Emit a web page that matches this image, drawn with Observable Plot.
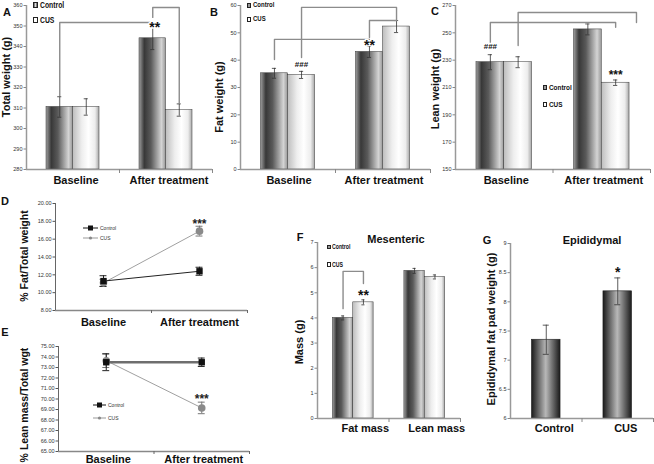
<!DOCTYPE html>
<html><head><meta charset="utf-8">
<script src="https://cdn.jsdelivr.net/npm/d3@7"></script>
<script src="https://cdn.jsdelivr.net/npm/@observablehq/plot@0.6"></script>
<style>
body{margin:0;background:#fff;}
#fig{position:relative;width:654px;height:464px;overflow:hidden;font-family:"Liberation Sans",Arial,sans-serif;background:#fff;}
.t{position:absolute;white-space:nowrap;line-height:1;color:#111;}
.sw{position:absolute;box-sizing:border-box;border:1px solid #222;}
</style></head><body>
<svg width="0" height="0" style="position:absolute">
<defs>
<linearGradient id="gCtrl" x1="0" x2="1" y1="0" y2="0">
<stop offset="0" stop-color="#a0a0a0"/><stop offset="0.2" stop-color="#383838"/><stop offset="0.45" stop-color="#5a5a5a"/><stop offset="0.85" stop-color="#d4d4d4"/><stop offset="1" stop-color="#9a9a9a"/>
</linearGradient>
<linearGradient id="gCus" x1="0" x2="1" y1="0" y2="0">
<stop offset="0" stop-color="#bdbdbd"/><stop offset="0.35" stop-color="#eeeeee"/><stop offset="0.6" stop-color="#ffffff"/><stop offset="0.85" stop-color="#ededed"/><stop offset="1" stop-color="#a8a8a8"/>
</linearGradient>
<linearGradient id="gEpi" x1="0" x2="1" y1="0" y2="0">
<stop offset="0" stop-color="#1a1a1a"/><stop offset="0.5" stop-color="#b8b8b8"/><stop offset="1" stop-color="#1a1a1a"/>
</linearGradient>
</defs></svg>
<div id="fig"></div>
<script>
// ---------- DATA ----------
const categories = ["Baseline", "After treatment"];
const groups = ["Control", "CUS"];

// A: Total weight (g)
const totalCtrl = [310.5, 344.0];
const totalCtrlErr = [5.0, 5.5];
const totalCus = [310.5, 309.0];
const totalCusErr = [4.0, 3.0];
const totalTicks = [280, 290, 300, 310, 320, 330, 340, 350, 360];

// B: Fat weight (g)
const fatCtrl = [35.2, 43.0];
const fatCtrlErr = [1.8, 2.0];
const fatCus = [34.6, 52.3];
const fatCusErr = [1.3, 2.2];
const fatTicks = [0, 10, 20, 30, 40, 50, 60];

// C: Lean weight (g)
const leanCtrl = [228.5, 252.5];
const leanCtrlErr = [5.5, 4.0];
const leanCus = [228.5, 213.5];
const leanCusErr = [4.0, 2.0];
const leanTicks = [150, 170, 190, 210, 230, 250, 270];

// D: % Fat/Total weight
const fatPctCtrl = [11.3, 12.4];
const fatPctCtrlErr = [0.6, 0.45];
const fatPctCus = [11.1, 16.9];
const fatPctCusErr = [0.4, 0.55];
const fatPctTicks = [8, 10, 12, 14, 16, 18, 20];

// E: % Lean mass/Total wgt
const leanPctCtrl = [73.5, 73.5];
const leanPctCtrlErr = [0.8, 0.4];
const leanPctCus = [73.65, 69.15];
const leanPctCusErr = [0.65, 0.55];
const leanPctTicks = [65, 66, 67, 68, 69, 70, 71, 72, 73, 74, 75];

// F: Mesenteric mass (g)
const mesCategories = ["Fat mass", "Lean mass"];
const mesCtrl = [4.0, 5.87];
const mesCtrlErr = [0.08, 0.1];
const mesCus = [4.62, 5.63];
const mesCusErr = [0.1, 0.08];
const mesTicks = [0, 1, 2, 3, 4, 5, 6, 7];

// G: Epididymal fat pad weight (g)
const epiGroups = ["Control", "CUS"];
const epiValues = [7.35, 8.18];
const epiErr = [0.25, 0.23];
const epiTicks = [6, 6.5, 7, 7.5, 8, 8.5, 9];

// significance brackets: [categoryIndex, groupSlot(-1 Control, +1 CUS), value]
const bracketsA = [
  [[0, -1, 316], [0, -1, 351.7], [1, -1, 351.7]],
  [[1, -1, 354.2], [1, -1, 359], [1, 1, 359], [1, 1, 312.3]]
];
const sigA = [{cat: 1, slot: -1, v: 349.5, text: "**"}];
const bracketsB = [
  [[0, -1, 40.2], [0, -1, 47.6], [1, -1, 47.6]],
  [[0, 1, 41], [0, 1, 59.3], [1, 1, 59.3], [1, 1, 54.5]],
  [[1, -1, 48.3], [1, -1, 54.5], [1, 1, 54.5]]
];
const sigB = [{cat: 0, slot: 1, v: 38.6, text: "###"}, {cat: 1, slot: -1, v: 45.25, text: "**"}];
const bracketsC = [
  [[0, -1, 242.9], [0, -1, 257.6], [1, 1, 257.6], [1, 1, 254]],
  [[0, 1, 240.7], [0, 1, 264.9], [1, 2.5, 264.9], [1, 2.5, 257.6]]
];
const sigC = [{cat: 0, slot: -1, v: 240.4, text: "###"}, {cat: 1, slot: 1, v: 218.7, text: "***"}];
const bracketsF = [
  [[0, -1, 4.37], [0, -1, 5.85], [0, 1, 5.85], [0, 1, 5.37]]
];
const sigF = [{cat: 0, slot: 1, v: 4.91, text: "**"}];
const sigD = [{cat: 1, v: 17.65, text: "***"}];
const sigE = [{cat: 1, v: 69.95, text: "***"}];
const sigG = [{cat: 1, v: 8.5, text: "*"}];

// ---------- LAYOUT / HELPERS ----------
const fig = document.getElementById("fig");
const xDomain = [-0.5, 1.5];
const bw = 0.285;
const FONT = "Liberation Sans, Arial, sans-serif";
const NARROW = "Liberation Sans Narrow, Arial Narrow, Liberation Sans, sans-serif";

function place(node, left, top) {
  node.style.position = "absolute";
  node.style.left = left + "px";
  node.style.top = top + "px";
  fig.appendChild(node);
}
function label(text, x, y, o = {}) {
  const d = document.createElement("div");
  d.className = "t";
  d.textContent = text;
  d.style.left = x + "px";
  d.style.top = y + "px";
  d.style.fontSize = (o.size || 11) + "px";
  d.style.fontWeight = o.weight || "bold";
  if (o.family) d.style.fontFamily = o.family;
  if (o.color) d.style.color = o.color;
  if (o.leftAlign) {
    d.style.transformOrigin = "0 50%";
    d.style.transform = "translate(0,-50%)" + (o.squeeze ? ` scaleX(${o.squeeze})` : "");
  } else {
    d.style.transform = o.rotate ? "translate(-50%,-50%) rotate(-90deg)" : "translate(-50%,-50%)";
  }
  fig.appendChild(d);
}
function swatch(x, y, w, h, kind) {
  const d = document.createElement("div");
  d.className = "sw";
  d.style.left = x + "px"; d.style.top = y + "px";
  d.style.width = w + "px"; d.style.height = h + "px";
  d.style.background = kind === "ctrl" ? "linear-gradient(90deg,#555,#ddd 50%,#555)" : "#fff";
  fig.appendChild(d);
}
function sigSize(t) { return t.startsWith("#") ? 8 : (t === "***" ? 12 : 14); }
function bracketPoints(br) {
  return br.flatMap((b, i) => b.map(([cat, slot, v]) => ({id: i, cat, slot, v})));
}
const sx = d => d.cat + (d.slot || 0) * bw / 2;

function barPanel(c) {
  const rows = c.ctrl.flatMap((v, i) => [
    {cat: i, slot: -1, v, e: c.ctrlErr[i]},
    {cat: i, slot: 1, v: c.cus[i], e: c.cusErr[i]}
  ]);
  const y0 = c.yDomain[0];
  const cap = 0.022;
  const plot = Plot.plot({
    width: c.width, height: c.height,
    marginLeft: c.mL, marginRight: c.mR, marginTop: c.mT, marginBottom: c.mB,
    x: {domain: xDomain, label: null},
    y: {domain: c.yDomain, label: null},
    color: {type: "identity"},
    style: {background: "transparent", fontFamily: FONT, overflow: "visible"},
    marks: [
      Plot.rect(rows, {
        x1: d => d.cat + (d.slot < 0 ? -bw : 0),
        x2: d => d.cat + (d.slot < 0 ? 0 : bw),
        y1: () => y0, y2: "v",
        fill: d => d.slot < 0 ? "url(#gCtrl)" : "url(#gCus)",
        stroke: "#333", strokeWidth: 0.5
      }),
      Plot.ruleX(rows, {x: sx, y1: d => d.v - d.e, y2: d => d.v + d.e, stroke: "#333", strokeWidth: 0.8}),
      Plot.ruleY(rows, {y: d => d.v - d.e, x1: d => sx(d) - cap, x2: d => sx(d) + cap, stroke: "#333", strokeWidth: 0.8}),
      Plot.ruleY(rows, {y: d => d.v + d.e, x1: d => sx(d) - cap, x2: d => sx(d) + cap, stroke: "#333", strokeWidth: 0.8}),
      Plot.line(bracketPoints(c.brackets), {x: sx, y: "v", z: "id", stroke: "#8c8c8c", strokeWidth: 1.4, curve: "linear"}),
      Plot.text(c.sigs, {x: sx, y: "v", text: "text", fontSize: d => sigSize(d.text), fontWeight: "bold",
        fill: "#111", stroke: "white", strokeWidth: 2.5, paintOrder: "stroke", dx: c.sigDx || 0}),
      Plot.ruleY([y0], {stroke: "#999", strokeWidth: 1.5}),
      Plot.ruleX([xDomain[0]], {stroke: "#999", strokeWidth: 1.5}),
      Plot.axisY({ticks: c.yTicks, tickFormat: c.yFormat || (d => String(d)), tickSize: 2.5, tickPadding: 1.5,
        fontSize: 5.5, fontFamily: NARROW, fill: "#333", stroke: "#888", label: null}),
      Plot.axisX({ticks: [0.5, 1.5], tickFormat: () => "", tickSize: 4, stroke: "#888", label: null}),
      Plot.axisX({ticks: [0, 1], tickFormat: i => c.cats[i], tickSize: 0, tickPadding: c.labelPad,
        fontSize: 11, fontWeight: "bold", fill: "#111", label: null, dx: c.labelDx || 0})
    ]
  });
  place(plot, c.left, c.top);
}

function linePanel(c) {
  const ctrlRows = c.ctrl.map((v, i) => ({cat: i, v, e: c.ctrlErr[i]}));
  const cusRows = c.cus.map((v, i) => ({cat: i, v, e: c.cusErr[i]}));
  const y0 = c.yDomain[0];
  const cap = 0.036;
  const err = (rows, color) => [
    Plot.ruleX(rows, {x: "cat", y1: d => d.v - d.e, y2: d => d.v + d.e, stroke: color, strokeWidth: 1}),
    Plot.ruleY(rows, {y: d => d.v - d.e, x1: d => d.cat - cap, x2: d => d.cat + cap, stroke: color, strokeWidth: 1}),
    Plot.ruleY(rows, {y: d => d.v + d.e, x1: d => d.cat - cap, x2: d => d.cat + cap, stroke: color, strokeWidth: 1})
  ];
  const plot = Plot.plot({
    width: c.width, height: c.height,
    marginLeft: c.mL, marginRight: c.mR, marginTop: c.mT, marginBottom: c.mB,
    x: {domain: xDomain, label: null},
    y: {domain: c.yDomain, label: null},
    style: {background: "transparent", fontFamily: FONT, overflow: "visible"},
    marks: [
      Plot.line(cusRows, {x: "cat", y: "v", stroke: "#a0a0a0", strokeWidth: 1}),
      Plot.line(ctrlRows, {x: "cat", y: "v", stroke: c.ctrlLine, strokeWidth: c.ctrlLineWidth}),
      ...err(cusRows, "#777"),
      ...err(ctrlRows, "#222"),
      Plot.dot(cusRows, {x: "cat", y: "v", symbol: "circle", r: 3.8, fill: "#8a8a8a"}),
      Plot.dot(ctrlRows, {x: "cat", y: "v", symbol: "square", r: 3.6, fill: "#111"}),
      Plot.text(c.sigs, {x: "cat", y: "v", text: "text", fontSize: 12, fontWeight: "bold", fill: "#222"}),
      Plot.ruleY([y0], {stroke: "#888", strokeWidth: 1.3}),
      Plot.ruleX([xDomain[0]], {stroke: "#666", strokeWidth: 1}),
      Plot.axisY({ticks: c.yTicks, tickFormat: d3.format(".2f"), tickSize: 2.5, tickPadding: 1.5,
        fontSize: 5.5, fill: "#333", stroke: "#555", label: null}),
      Plot.axisX({ticks: [0.5, 1.5], tickFormat: () => "", tickSize: 3, stroke: "#666", label: null}),
      Plot.axisX({ticks: [0, 1], tickFormat: i => categories[i], tickSize: 0, tickPadding: c.labelPad,
        fontSize: 11, fontWeight: "bold", fill: "#111", label: null, dx: c.labelDx || 0})
    ]
  });
  place(plot, c.left, c.top);
}

function epiPanel(c) {
  const rows = epiValues.map((v, i) => ({cat: i, v, e: epiErr[i]}));
  const y0 = c.yDomain[0];
  const half = 0.2, cap = 0.042;
  const plot = Plot.plot({
    width: c.width, height: c.height,
    marginLeft: c.mL, marginRight: c.mR, marginTop: c.mT, marginBottom: c.mB,
    x: {domain: xDomain, label: null},
    y: {domain: c.yDomain, label: null},
    color: {type: "identity"},
    style: {background: "transparent", fontFamily: FONT, overflow: "visible"},
    marks: [
      Plot.rect(rows, {x1: d => d.cat - half, x2: d => d.cat + half, y1: () => y0, y2: "v",
        fill: () => "url(#gEpi)", stroke: "#222", strokeWidth: 0.6}),
      Plot.ruleX(rows, {x: "cat", y1: d => d.v - d.e, y2: d => d.v + d.e, stroke: "#333", strokeWidth: 0.8}),
      Plot.ruleY(rows, {y: d => d.v - d.e, x1: d => d.cat - cap, x2: d => d.cat + cap, stroke: "#333", strokeWidth: 0.8}),
      Plot.ruleY(rows, {y: d => d.v + d.e, x1: d => d.cat - cap, x2: d => d.cat + cap, stroke: "#333", strokeWidth: 0.8}),
      Plot.text(sigG, {x: "cat", y: "v", text: "text", fontSize: 14, fontWeight: "bold", fill: "#111"}),
      Plot.ruleY([y0], {stroke: "#999", strokeWidth: 1.5}),
      Plot.ruleX([xDomain[0]], {stroke: "#999", strokeWidth: 1.5}),
      Plot.axisY({ticks: c.yTicks, tickFormat: d => String(d), tickSize: 2.5, tickPadding: 1.5,
        fontSize: 5.5, fontFamily: NARROW, fill: "#333", stroke: "#888", label: null}),
      Plot.axisX({ticks: [0.5, 1.5], tickFormat: () => "", tickSize: 4, stroke: "#888", label: null}),
      Plot.axisX({ticks: [0, 1], tickFormat: i => epiGroups[i], tickSize: 0, tickPadding: c.labelPad,
        fontSize: 11, fontWeight: "bold", fill: "#111", label: null, dx: c.labelDx || 0})
    ]
  });
  place(plot, c.left, c.top);
}

// ---------- PANELS ----------
barPanel({left: 0, top: 0, width: 215, height: 192, mL: 26, mR: 3, mT: 5, mB: 23,
  yDomain: [280, 360], yTicks: totalTicks, cats: categories,
  ctrl: totalCtrl, ctrlErr: totalCtrlErr, cus: totalCus, cusErr: totalCusErr,
  brackets: bracketsA, sigs: sigA, sigDx: 2, labelPad: 7, labelDx: 3});
barPanel({left: 215, top: 0, width: 220, height: 192, mL: 25, mR: 5, mT: 5, mB: 23,
  yDomain: [0, 60], yTicks: fatTicks, cats: categories,
  ctrl: fatCtrl, ctrlErr: fatCtrlErr, cus: fatCus, cusErr: fatCusErr,
  brackets: bracketsB, sigs: sigB, labelPad: 7, labelDx: 1});
barPanel({left: 430, top: 0, width: 224, height: 192, mL: 25, mR: 4, mT: 5, mB: 23,
  yDomain: [150, 270], yTicks: leanTicks, cats: categories,
  ctrl: leanCtrl, ctrlErr: leanCtrlErr, cus: leanCus, cusErr: leanCusErr,
  brackets: bracketsC, sigs: sigC, labelPad: 7, labelDx: 2});
linePanel({left: 0, top: 195, width: 250, height: 135, mL: 55, mR: 3, mT: 8, mB: 20,
  yDomain: [8, 20], yTicks: fatPctTicks,
  ctrl: fatPctCtrl, ctrlErr: fatPctCtrlErr, cus: fatPctCus, cusErr: fatPctCusErr,
  ctrlLine: "#222", ctrlLineWidth: 1, sigs: sigD, labelPad: 8});
linePanel({left: 0, top: 335, width: 252, height: 129, mL: 58, mR: 3, mT: 11, mB: 13,
  yDomain: [65, 75], yTicks: leanPctTicks,
  ctrl: leanPctCtrl, ctrlErr: leanPctCtrlErr, cus: leanPctCus, cusErr: leanPctCusErr,
  ctrlLine: "#6e6e6e", ctrlLineWidth: 2.5, sigs: sigE, labelPad: 4, labelDx: 2});
barPanel({left: 290, top: 232, width: 172, height: 208, mL: 27, mR: 2, mT: 10, mB: 22,
  yDomain: [0, 7], yTicks: mesTicks, cats: mesCategories,
  ctrl: mesCtrl, ctrlErr: mesCtrlErr, cus: mesCus, cusErr: mesCusErr,
  brackets: bracketsF, sigs: sigF, labelPad: 6, labelDx: 12});
epiPanel({left: 470, top: 232, width: 184, height: 208, mL: 40, mR: 1, mT: 11, mB: 22,
  yDomain: [6, 9], yTicks: epiTicks, labelPad: 6, labelDx: 8});

// ---------- TEXT OVERLAYS ----------
// panel letters
label("A", 7, 12); label("B", 214, 12); label("C", 435, 11);
label("D", 5, 201); label("E", 5, 332); label("F", 300, 237); label("G", 487, 240);
// y titles
label("Total weight (g)", 6, 77, {rotate: true});
label("Fat weight (g)", 219, 97, {rotate: true});
label("Lean weight (g)", 435, 89, {rotate: true});
label("% Fat/Total weight", 24, 256, {rotate: true, size: 10.5});
label("% Lean mass/Total wgt", 24, 405, {rotate: true, size: 10.5});
label("Mass (g)", 299, 342, {rotate: true});
label("Epididymal fat pad weight (g)", 491, 329, {rotate: true});
// titles
label("Mesenteric", 396, 239);
label("Epididymal", 592, 240);

// bar legends
function barLegend(x, y1, y2, sw, sh, size) {
  swatch(x, y1 - sh / 2, sw, sh, "ctrl");
  swatch(x, y2 - sh / 2, sw, sh, "cus");
  label(groups[0], x + sw + 1.5, y1, {size, family: NARROW, leftAlign: true, squeeze: 0.8});
  label(groups[1], x + sw + 1.5, y2, {size, family: NARROW, leftAlign: true, squeeze: 0.8});
}
barLegend(33, 5, 20, 5, 6, 8.5);
barLegend(247, 5, 19, 4, 5, 7.5);
barLegend(543, 87.5, 104.5, 4, 5, 8);
barLegend(327, 247, 264.5, 3.5, 4.5, 6.5);

// line legends
function lineLegend(x, y1, y2, len, size) {
  const ns = "http://www.w3.org/2000/svg";
  const svg = document.createElementNS(ns, "svg");
  svg.setAttribute("width", len + 2); svg.setAttribute("height", y2 - y1 + 8);
  svg.innerHTML =
    `<line x1="1" x2="${len + 1}" y1="4" y2="4" stroke="#111" stroke-width="1"/>` +
    `<rect x="${len / 2 - 1.5}" y="1.5" width="5" height="5" fill="#111"/>` +
    `<line x1="1" x2="${len + 1}" y1="${y2 - y1 + 4}" y2="${y2 - y1 + 4}" stroke="#999" stroke-width="1"/>` +
    `<circle cx="${len / 2 + 1}" cy="${y2 - y1 + 4}" r="1.6" fill="#888"/>`;
  place(svg, x - 1, y1 - 4);
  label(groups[0], x + len + 2, y1, {size, weight: "normal", leftAlign: true, color: "#333"});
  label(groups[1], x + len + 2, y2, {size, weight: "normal", leftAlign: true, color: "#333"});
}
lineLegend(83, 228, 238, 15, 5);
lineLegend(93, 405, 418, 13, 5);
</script>
</body></html>
